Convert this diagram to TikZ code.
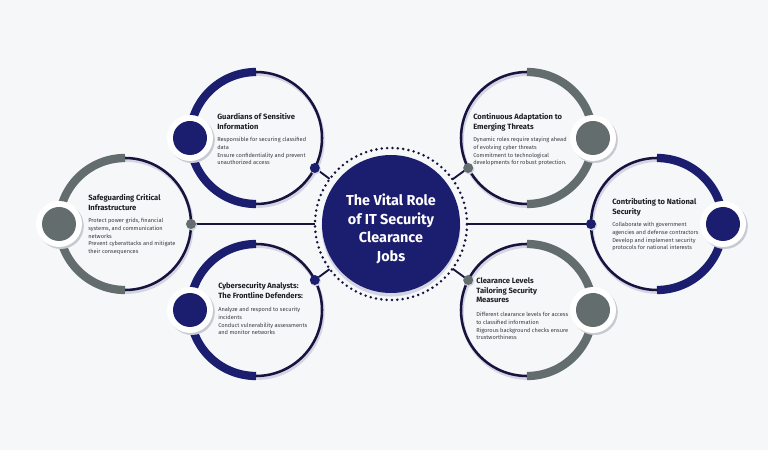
\documentclass[tikz,border=0pt]{standalone}
\usepackage{fontspec}
\setmainfont{Fira Sans}
\usetikzlibrary{calc}
\definecolor{bgc}{RGB}{246,247,249}
\definecolor{navy}{RGB}{27,29,110}
\definecolor{grayc}{RGB}{100,109,109}
\definecolor{thinc}{RGB}{22,20,62}
\definecolor{shadowc}{RGB}{212,213,228}
\definecolor{haloshadow}{RGB}{200,202,210}
\definecolor{headc}{RGB}{30,30,36}
\definecolor{bodyc}{RGB}{60,60,66}
\begin{document}
\begin{tikzpicture}[x=0.75pt,y=0.75pt,
  thinring/.style={draw=thinc, line width=1.9pt},
  thickring/.style={line width=6.2pt, line cap=butt},
  ringshadow/.style={draw=shadowc, line width=2.6pt},
  head/.style={anchor=north west, inner sep=0pt, align=left, text=headc,
    font=\fontsize{5.7}{7.1}\selectfont\bfseries},
  body/.style={anchor=north west, inner sep=0pt, align=left, text=bodyc,
    font=\fontsize{4.25}{5.7}\selectfont},
  cdot/.style={circle, inner sep=0pt, minimum size=7.5pt},
  knob/.style={circle, inner sep=0pt, minimum size=25.5pt},
  link/.style={draw=thinc, line width=1.4pt}
]
\useasboundingbox (0,0) rectangle (768,450);
\fill[bgc] (0,0) rectangle (768,450);

% centres
\coordinate (ctr) at (391,226);
\coordinate (gc) at (256,312);
\coordinate (cc) at (527,312);
\coordinate (sc) at (125,226);
\coordinate (nc) at (657,226);
\coordinate (yc) at (256,140);
\coordinate (lc) at (527,140);

% ring shadows
\foreach \c in {gc,cc,sc,nc,yc,lc}
  \draw[ringshadow] ([shift={(1,-2.2)}]\c) circle[radius=49.5pt];

% thin rings
\foreach \c in {gc,cc,sc,nc,yc,lc}
  \draw[thinring] (\c) circle[radius=49.5pt];

% thick half arcs
\draw[thickring, navy]  (gc) ++(90:66) arc[start angle=90, end angle=270, radius=49.5pt];
\draw[thickring, grayc] (sc) ++(90:66) arc[start angle=90, end angle=270, radius=49.5pt];
\draw[thickring, navy]  (yc) ++(90:66) arc[start angle=90, end angle=270, radius=49.5pt];
\draw[thickring, grayc] (cc) ++(90:66) arc[start angle=90, end angle=-90, radius=49.5pt];
\draw[thickring, navy]  (nc) ++(90:66) arc[start angle=90, end angle=-90, radius=49.5pt];
\draw[thickring, grayc] (lc) ++(90:66) arc[start angle=90, end angle=-90, radius=49.5pt];

% centre circle
\node[circle, minimum size=114pt, inner sep=0pt] (ring) at (ctr) {};
\fill[shadowc] ([yshift=-2.4pt]ctr) circle[radius=52pt];
\fill[navy] (ctr) circle[radius=51.75pt];
\draw[thinc, line width=2.1pt, line cap=round, dash pattern=on 0pt off 4.02pt] (ctr) circle[radius=57pt];

% connector dots
\path (gc) ++(-27:66) node[cdot] (gd) {};
\path (cc) ++(207:66) node[cdot] (cd) {};
\path (sc) ++(0:66) node[cdot] (sd) {};
\path (nc) ++(180:66) node[cdot] (nd) {};
\path (yc) ++(27:66) node[cdot] (yd) {};
\path (lc) ++(153:66) node[cdot] (ld) {};

% connectors
\foreach \d in {gd,cd,sd,nd,yd,ld}
  \draw[link] (\d.center) -- (ring);

% dots with shadows
\foreach \d/\col in {gd/navy,cd/grayc,sd/grayc,nd/navy,yd/navy,ld/grayc}{
  \fill[shadowc] ([shift={(0.8,-1.2)}]\d.center) circle[radius=4pt];
  \fill[\col] (\d.center) circle[radius=3.75pt];
}

% knobs
\path (gc) ++(180:66) node[knob] (gk) {};
\path (sc) ++(180:66) node[knob] (sk) {};
\path (yc) ++(180:66) node[knob] (yk) {};
\path (cc) ++(0:66) node[knob] (ck) {};
\path (nc) ++(0:66) node[knob] (nk) {};
\path (lc) ++(0:66) node[knob] (lk) {};
\foreach \k/\col in {gk/navy,sk/grayc,yk/navy,ck/grayc,nk/navy,lk/grayc}{
  \fill[haloshadow] ([shift={(1.8,-2)}]\k.center) circle[radius=17.25pt];
  \fill[white] (\k.center) circle[radius=17.25pt];
  \fill[\col] (\k.center) circle[radius=12.75pt];
}

% centre title
\node[text=white, align=center, inner sep=0pt,
  font=\fontsize{10.8}{13.95}\selectfont\bfseries] (title) at (391,221) {The Vital Role\\of IT Security\\Clearance\\Jobs};

% texts
\node[head] (gh) at (217,336.5) {Guardians of Sensitive\\Information};
\node[body] (gb) at (217,312.7) {Responsible for securing classified\\data\\Ensure confidentiality and prevent\\unauthorized access};

\node[head] (ch) at (473,336.5) {Continuous Adaptation to\\Emerging Threats};
\node[body] (cb) at (473,312.7) {Dynamic roles require staying ahead\\of evolving cyber threats\\Commitment to technological\\developments for robust protection.};

\node[head] (sh) at (88,255.5) {Safeguarding Critical\\Infrastructure};
\node[body] (sb) at (88,231.7) {Protect power grids, financial\\systems, and communication\\networks\\Prevent cyberattacks and mitigate\\their consequences};

\node[head] (nh) at (612,251.5) {Contributing to National\\Security};
\node[body] (nb) at (612,227.7) {Collaborate with government\\agencies and defense contractors\\Develop and implement security\\protocols for national interests};

\node[head] (yh) at (218,167.5) {Cybersecurity Analysts:\\The Frontline Defenders:};
\node[body] (yb) at (218,142.7) {Analyze and respond to security\\incidents\\Conduct vulnerability assessments\\and monitor networks};

\node[head] (lh) at (476,172.5) {Clearance Levels\\Tailoring Security\\Measures};
\node[body] (lb) at (476,137.7) {Different clearance levels for access\\to classified information\\Rigorous background checks ensure\\trustworthiness};
\end{tikzpicture}
\end{document}
